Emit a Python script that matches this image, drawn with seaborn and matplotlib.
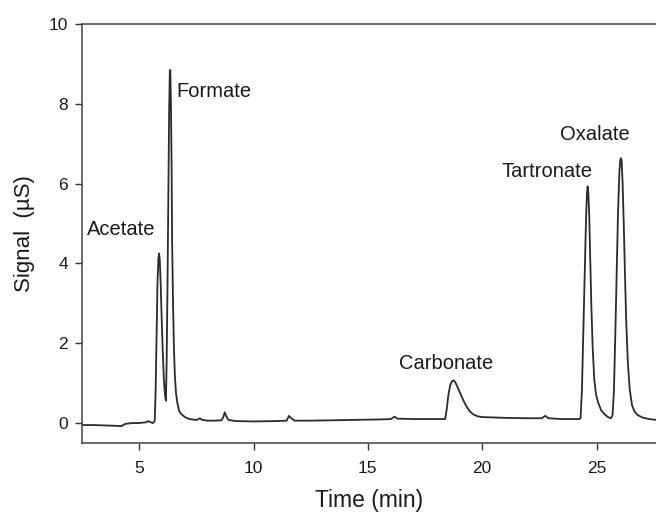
import matplotlib
matplotlib.use("Agg")
import matplotlib.pyplot as plt
import seaborn as sns
import pandas as pd

# retention time (min) and conductivity signal (uS)
time_min = [
    2.5, 3.0, 3.5, 4.0, 4.23, 4.3, 4.4, 4.7, 5.0, 5.3, 5.4, 5.5, 5.6, 5.68,
    # acetate
    5.72, 5.76, 5.80, 5.84, 5.87, 5.90, 5.94, 5.98, 6.03, 6.08, 6.13, 6.17,
    # formate
    6.20, 6.24, 6.28, 6.31, 6.34, 6.36, 6.39, 6.42, 6.44, 6.48, 6.52, 6.56,
    6.61, 6.67, 6.75, 6.85, 7.0, 7.2, 7.45, 7.58, 7.65, 7.75, 8.0, 8.3,
    8.6, 8.68, 8.74, 8.8, 8.9, 9.2, 10.0, 11.0, 11.45, 11.55, 11.65, 11.8,
    12.5, 13.5, 14.4, 15.5, 16.0, 16.17, 16.3, 17.0, 18.0, 18.38,
    # carbonate
    18.45, 18.52, 18.6, 18.68, 18.75, 18.82, 18.9, 19.0, 19.15, 19.3, 19.45,
    19.6, 19.8, 20.0, 21.0, 22.0, 22.6, 22.76, 22.9, 23.5, 24.25, 24.3,
    # tartronate
    24.36, 24.42, 24.48, 24.54, 24.58, 24.61, 24.64, 24.68, 24.72, 24.77,
    24.83, 24.9, 24.98, 25.08, 25.2, 25.35, 25.5, 25.63, 25.7,
    # oxalate
    25.76, 25.82, 25.88, 25.94, 26.0, 26.04, 26.07, 26.1, 26.14, 26.19,
    26.24, 26.3, 26.37, 26.45, 26.55, 26.65, 26.8, 27.0, 27.3, 27.6,
]
signal_us = [
    -0.05, -0.05, -0.06, -0.07, -0.08, -0.05, -0.02, 0.0, 0.0, 0.02, 0.05, 0.02, 0.0, 0.05,
    0.8, 2.2, 3.5, 4.1, 4.25, 4.1, 3.5, 2.7, 1.8, 1.1, 0.7, 0.56,
    1.5, 3.5, 6.0, 7.8, 8.8, 8.85, 8.0, 6.3, 4.6, 3.0, 1.9, 1.2,
    0.75, 0.5, 0.3, 0.22, 0.15, 0.1, 0.08, 0.09, 0.12, 0.08, 0.06, 0.06,
    0.07, 0.15, 0.27, 0.18, 0.08, 0.05, 0.04, 0.05, 0.06, 0.18, 0.12, 0.06,
    0.06, 0.07, 0.08, 0.09, 0.1, 0.16, 0.11, 0.1, 0.1, 0.1,
    0.35, 0.7, 0.95, 1.05, 1.07, 1.03, 0.93, 0.8, 0.6, 0.43, 0.3,
    0.22, 0.17, 0.15, 0.13, 0.12, 0.12, 0.18, 0.12, 0.1, 0.1, 0.12,
    0.8, 2.2, 3.7, 5.1, 5.75, 5.93, 5.8, 5.2, 4.2, 3.0,
    1.9, 1.1, 0.7, 0.5, 0.32, 0.22, 0.15, 0.12, 0.2,
    0.8, 2.2, 3.8, 5.3, 6.3, 6.6, 6.64, 6.55, 6.0, 5.0,
    3.8, 2.5, 1.5, 0.85, 0.45, 0.3, 0.2, 0.14, 0.1, 0.08,
]

peak_names = ["Acetate", "Formate", "Carbonate", "Tartronate", "Oxalate"]
label_x = [4.22, 8.25, 18.43, 22.85, 24.92]
label_y = [4.85, 8.31, 1.48, 6.31, 7.23]

df = pd.DataFrame({"time": time_min, "signal": signal_us})

sns.set_theme(style="ticks")
plt.rcParams["font.family"] = ["Liberation Sans", "DejaVu Sans"]

fig = plt.figure(figsize=(6.56, 5.15), dpi=100)
ax = fig.add_axes([0.125, 0.1398, 0.875, 0.8136])

sns.lineplot(data=df, x="time", y="signal", sort=False, color="#2b2b2b",
             linewidth=1.3, ax=ax)

for name, lx, ly in zip(peak_names, label_x, label_y):
    ax.text(lx, ly, name, ha="center", va="center", fontsize=14.5, color="#1a1a1a")

ax.set_xlim(2.5, 27.6)
ax.set_ylim(-0.5, 10)
ax.set_xticks([5, 10, 15, 20, 25])
ax.set_yticks([0, 2, 4, 6, 8, 10])
ax.set_xlabel("Time (min)", fontsize=16.5, labelpad=9, color="#1a1a1a")
ax.set_ylabel("Signal  (\u00b5S)", fontsize=16, labelpad=10, color="#1a1a1a")
ax.tick_params(axis="x", labelsize=12.5, length=5, width=1, pad=8, colors="#333333")
ax.tick_params(axis="y", labelsize=12.5, length=5, width=1, pad=5, colors="#333333")
for lbl in ax.get_xticklabels() + ax.get_yticklabels():
    lbl.set_color("#1a1a1a")

ax.spines["right"].set_visible(False)
for side in ["left", "bottom", "top"]:
    ax.spines[side].set_color("#444444")
    ax.spines[side].set_linewidth(1.1)

fig.savefig("out.png", dpi=100)
